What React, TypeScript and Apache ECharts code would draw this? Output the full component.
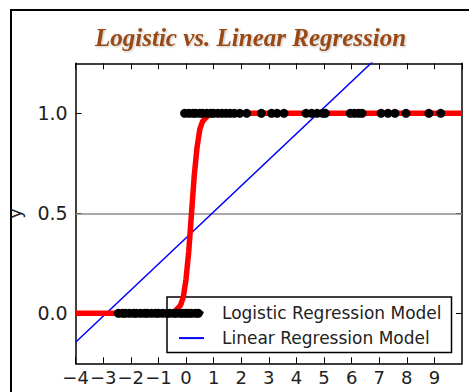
import React, { useEffect, useRef } from 'react';
import * as echarts from 'echarts';

const titleText = 'Logistic vs. Linear Regression';
const yTickValues = [0, 0.5, 1.0];
const xMin = -4;
const xMax = 10;
const yMin = -0.25;
const yMax = 1.25;
const thresholdY = 0.5;

const logisticX = [-4, -0.6, -0.4, -0.2, -0.1, 0, 0.1, 0.2, 0.3, 0.4, 0.5, 0.6, 0.8, 1.0, 10];
const logisticY = [0, 0.0, 0.01, 0.04, 0.08, 0.17, 0.31, 0.5, 0.69, 0.83, 0.92, 0.96, 0.99, 1.0, 1.0];

const linearX = [-4, 10];
const linearY = [-0.145, 1.68];

const class0X = [-2.45, -2.3, -2.2, -2.05, -1.9, -1.8, -1.65, -1.5, -1.4, -1.25, -1.1, -1.0, -0.85, -0.7, -0.6, -0.45, -0.35, -0.2, -0.1, 0.0, 0.1, 0.2, 0.35, 0.45];
const class1X = [-0.05, 0.1, 0.25, 0.35, 0.5, 0.6, 0.75, 0.9, 1.0, 1.15, 1.3, 1.45, 1.6, 1.75, 1.95, 2.2, 2.73, 3.1, 3.3, 3.55, 4.35, 4.55, 4.75, 4.95, 5.05, 5.95, 6.1, 6.25, 6.38, 7.07, 7.32, 7.57, 7.97, 8.8, 9.23];

const seriesNames = ['Logistic Regression Model', 'Linear Regression Model'];

const FONT = 'DejaVu Sans';

export default function App() {
  const ref = useRef<HTMLDivElement>(null);
  useEffect(() => {
    const chart = echarts.init(ref.current!, null, { renderer: 'svg' });
    const fmtX = (v: number) => (v === xMax ? '' : v < 0 ? '\u2212' + Math.abs(v) : String(v));
    const axisLine = { show: true, onZero: false, lineStyle: { color: '#000', width: 1.5 } };
    const tick = { show: true, inside: true, length: 6, lineStyle: { color: '#000', width: 1 } };
    chart.setOption({
      animation: false,
      backgroundColor: '#fff',
      title: {
        text: titleText,
        left: 90,
        top: 20,
        textStyle: {
          fontFamily: 'Liberation Serif',
          fontStyle: 'italic',
          fontWeight: 'bold',
          fontSize: 25,
          color: '#9a4a14',
          textShadowColor: 'rgba(0,0,0,0.25)',
          textShadowBlur: 2,
          textShadowOffsetX: 1,
          textShadowOffsetY: 1,
        },
      },
      graphic: [
        { type: 'line', shape: { x1: 10, y1: 10, x2: 469, y2: 10 }, style: { stroke: '#000', lineWidth: 2 } },
        { type: 'line', shape: { x1: 11, y1: 10, x2: 11, y2: 392 }, style: { stroke: '#000', lineWidth: 2 } },
      ],
      legend: {
        data: seriesNames,
        orient: 'vertical',
        left: 167,
        top: 297,
        z: 1,
        padding: [7, 10, 6, 11],
        itemWidth: 25,
        itemHeight: 17,
        itemGap: 8.6,
        borderColor: '#000',
        borderWidth: 1.5,
        borderRadius: 0,
        backgroundColor: 'transparent',
        itemStyle: { color: 'transparent', borderColor: 'transparent', borderWidth: 0 },
        textStyle: { fontFamily: FONT, fontSize: 17, color: '#222', padding: [0, 0, 0, 13] },
      },
      grid: { left: 75.6, right: 7, top: 63.3, bottom: 28.7, show: false, outerBoundsMode: 'none', containLabel: false },
      xAxis: [
        {
          type: 'value',
          min: xMin,
          max: xMax,
          interval: 1,
          position: 'bottom',
          splitLine: { show: false },
          axisLine,
          axisTick: tick,
          axisLabel: {
            formatter: fmtX,
            fontFamily: FONT,
            fontSize: 18,
            color: '#222',
            margin: 5,
            showMinLabel: true,
            showMaxLabel: false,
            hideOverlap: false,
          },
        },
        {
          type: 'value',
          min: xMin,
          max: xMax,
          interval: 1,
          position: 'top',
          splitLine: { show: false },
          axisLine,
          axisTick: tick,
          axisLabel: { show: false },
        },
      ],
      yAxis: [
        {
          type: 'value',
          min: yMin,
          max: yMax,
          position: 'left',
          name: 'y',
          nameLocation: 'middle',
          nameRotate: 90,
          nameGap: 52,
          nameTextStyle: { fontFamily: FONT, fontSize: 18, color: '#222' },
          splitLine: { show: false },
          axisLine,
          axisTick: { ...tick, customValues: yTickValues },
          axisLabel: {
            customValues: yTickValues,
            formatter: (v: number) => v.toFixed(1),
            fontFamily: FONT,
            fontSize: 19,
            color: '#222',
            margin: 8,
          },
        },
        {
          type: 'value',
          min: yMin,
          max: yMax,
          position: 'right',
          splitLine: { show: false },
          axisLine,
          axisTick: { ...tick, customValues: yTickValues },
          axisLabel: { show: false, customValues: yTickValues },
        },
      ],
      series: [
        {
          name: seriesNames[1],
          type: 'line',
          data: linearX.map((x, i) => [x, linearY[i]]),
          symbol: 'none',
          lineStyle: { color: '#0000ff', width: 1.5 },
          itemStyle: { color: '#0000ff' },
          z: 3,
          clip: true,
          markLine: {
            silent: true,
            symbol: 'none',
            label: { show: false },
            lineStyle: { color: '#8c8c8c', width: 1.5, type: 'solid' },
            data: [{ yAxis: thresholdY }],
            z: 2,
          },
        },
        {
          name: seriesNames[0],
          type: 'line',
          data: logisticX.map((x, i) => [x, logisticY[i]]),
          symbol: 'none',
          lineStyle: { color: '#ff0000', width: 5.5 },
          itemStyle: { color: '#ff0000' },
          z: 4,
        },
        {
          name: 'class0',
          type: 'scatter',
          data: class0X.map((x) => [x, 0]),
          symbolSize: 9,
          itemStyle: { color: '#000', opacity: 1 },
          z: 5,
        },
        {
          name: 'class1',
          type: 'scatter',
          data: class1X.map((x) => [x, 1]),
          symbolSize: 9,
          itemStyle: { color: '#000', opacity: 1 },
          z: 5,
        },
      ],
    });
    return () => chart.dispose();
  }, []);
  return <div ref={ref} style={{ position: 'absolute', left: 0, top: 0, width: 469, height: 392 }} />;
}
